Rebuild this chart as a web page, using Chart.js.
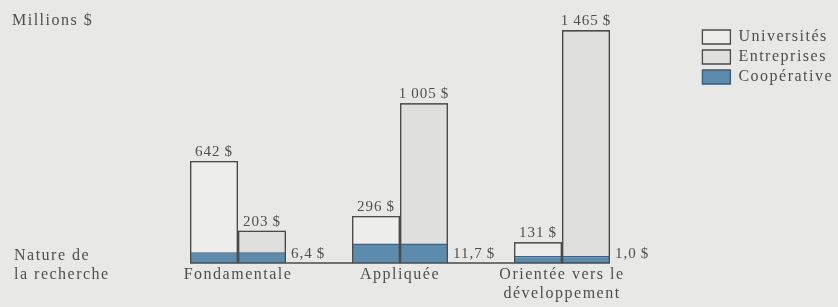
<!DOCTYPE html>
<html>
<head>
<meta charset="utf-8">
<script src="https://cdn.jsdelivr.net/npm/chart.js@4"></script>
<style>
  html, body { margin: 0; padding: 0; background: #e8e8e7; }
  #wrap { width: 838px; height: 307px; position: relative; }
</style>
</head>
<body>
<div id="wrap"><canvas id="c"></canvas></div>
<script>
var categories = [['Fondamentale'], ['Appliquée'], ['Orientée vers le', 'développement']];
var universites = [642, 296, 131];
var entreprises = [203, 1005, 1465];
var cooperative = [6.4, 11.7, 1.0];
var seriesNames = ['Universités', 'Entreprises', 'Coopérative'];

var FONT = 'Liberation Serif';
var TXT = '#4f4f4f';
var EDGE = '#4a4a4a';
var SPACING = '1.5px';

function dollars(v, dec) {
    var s = v.toFixed(dec || 0).replace('.', ',');
    s = s.replace(/\B(?=(\d{3})+(?!\d))/g, '\u2009');
    return s + '\u2009$';
}

var textPlugin = {
    id: 'textPlugin',
    beforeLayout: function (chart) { chart.ctx.letterSpacing = SPACING; },
    beforeDraw: function (chart) { chart.ctx.letterSpacing = SPACING; },
    afterDatasetsDraw: function (chart) {
        var ctx = chart.ctx;
        var zero = chart.scales.y.getPixelForValue(0);
        var m0 = chart.getDatasetMeta(0), m1 = chart.getDatasetMeta(1), m2 = chart.getDatasetMeta(2);
        ctx.save();
        // outlines of the two main bars stay visible over the blue base
        ctx.strokeStyle = EDGE;
        ctx.lineWidth = 1.3;
        [m0, m1].forEach(function (m) {
            m.data.forEach(function (bar) {
                var l = bar.x - bar.width / 2 + 0.65, r = bar.x + bar.width / 2 - 0.65, t = bar.y + 0.65;
                ctx.beginPath();
                ctx.moveTo(l, zero); ctx.lineTo(l, t); ctx.lineTo(r, t); ctx.lineTo(r, zero);
                ctx.stroke();
            });
        });
        // baseline under the bars
        var first = m0.data[0], last = m1.data[m1.data.length - 1];
        ctx.lineWidth = 1.6;
        ctx.beginPath();
        ctx.moveTo(first.x - first.width / 2, zero);
        ctx.lineTo(last.x + last.width / 2, zero);
        ctx.stroke();

        ctx.fillStyle = TXT;
        ctx.letterSpacing = '1px';
        ctx.font = '15px "' + FONT + '"';
        ctx.textAlign = 'center';
        ctx.textBaseline = 'alphabetic';
        [[m0, universites], [m1, entreprises]].forEach(function (p) {
            p[0].data.forEach(function (bar, i) {
                ctx.fillText(dollars(p[1][i]), bar.x, bar.y - 5);
            });
        });
        ctx.textAlign = 'left';
        m2.data.forEach(function (bar, i) {
            ctx.fillText(dollars(cooperative[i], 1), bar.x + bar.width / 2 + 5, zero - 5);
        });

        ctx.letterSpacing = SPACING;
        ctx.font = '16px "' + FONT + '"';
        ctx.fillText('Millions $', 12, 25);
        ctx.fillText('Nature de', 14, zero - 3);
        ctx.fillText('la recherche', 14, zero + 16);
        ctx.restore();
    }
};

var chart = new Chart(document.getElementById('c'), {
    type: 'bar',
    data: {
        labels: categories,
        datasets: [{
            label: seriesNames[0],
            data: universites,
            backgroundColor: '#ededec',
            borderColor: EDGE,
            borderWidth: 1.3,
            order: 1
        }, {
            label: seriesNames[1],
            data: entreprises,
            backgroundColor: '#dfdfde',
            borderColor: EDGE,
            borderWidth: 1.3,
            order: 1
        }, {
            label: seriesNames[2],
            data: cooperative,
            yAxisID: 'y2',
            grouped: false,
            minBarLength: 7,
            backgroundColor: '#5d8bae',
            borderColor: '#3b6282',
            borderWidth: {top: 1.6},
            order: 0
        }]
    },
    options: {
        responsive: true,
        maintainAspectRatio: false,
        animation: false,
        categoryPercentage: 96 / 162,
        barPercentage: 1,
        layout: {padding: {left: 157, top: 25, right: 0, bottom: 0}},
        plugins: {
            tooltip: {enabled: false},
            legend: {
                position: 'right',
                align: 'start',
                maxWidth: 139.6,
                labels: {
                    boxWidth: 28,
                    boxHeight: 14,
                    padding: 4,
                    color: TXT,
                    font: {family: FONT, size: 16},
                    sort: function (a, b) { return a.datasetIndex - b.datasetIndex; },
                    generateLabels: function (c) {
                        var items = Chart.defaults.plugins.legend.labels.generateLabels(c);
                        items.forEach(function (it) {
                            it.lineWidth = 1.3;
                            it.strokeStyle = it.datasetIndex === 2 ? '#3b5a72' : EDGE;
                        });
                        return items;
                    }
                }
            }
        },
        scales: {
            x: {
                grid: {display: false},
                border: {display: false},
                ticks: {color: TXT, font: {family: FONT, size: 16, lineHeight: 1.15}, padding: -5, maxRotation: 0, autoSkip: false},
                afterFit: function (s) { s.height = 44; }
            },
            y: {display: false, min: 0, max: 1497},
            y2: {
                position: 'right',
                min: 0,
                max: 142,
                grid: {display: false},
                border: {display: false},
                ticks: {display: false},
                afterFit: function (s) { s.width = 55.4; }
            }
        }
    },
    plugins: [textPlugin]
});
</script>
</body>
</html>
